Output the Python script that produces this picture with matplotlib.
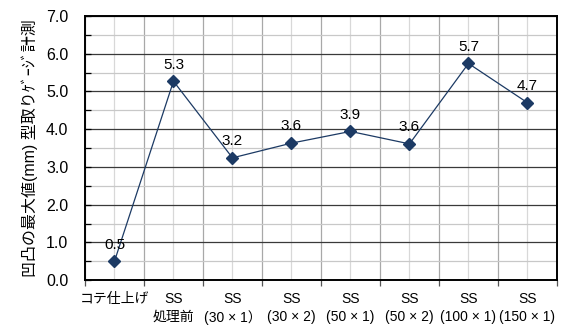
import numpy as np
import matplotlib.pyplot as plt
from matplotlib.ticker import MultipleLocator, FixedLocator

plt.rcParams['font.family'] = ['Liberation Sans', 'Noto Sans CJK JP', 'DejaVu Sans']

# data
categories = ['コテ仕上げ', 'SS\n処理前', 'SS\n(30 × 1）', 'SS\n(30 × 2)', 'SS\n(50 × 1)',
              'SS\n(50 × 2)', 'SS\n(100 × 1)', 'SS\n(150 × 1)']
values = [0.50, 5.27, 3.24, 3.63, 3.94, 3.61, 5.74, 4.70]
ylabel = '凹凸の最大値(mm) 型取りｹﾞｰｼﾞ計測'

col = '#1c3a64'

fig = plt.figure(figsize=(5.68, 3.25), dpi=100)
ax = fig.add_axes([0.1496, 0.138, 0.831, 0.813])

x = np.arange(len(categories))
ax.plot(x, values, color=col, lw=0.9, marker='D', ms=6.5, mec=col, mfc=col, zorder=5)
for xi, v in zip(x, values):
    ax.annotate(f'{v:.1f}', (xi, v), xytext=(0, 7), textcoords='offset points',
                ha='center', va='bottom', fontsize=11, zorder=6)

ax.set_xlim(-0.5, len(categories) - 0.5)
ax.set_ylim(0, 7)

# y grid: major dark, minor light
ax.yaxis.set_major_locator(MultipleLocator(1.0))
ax.yaxis.set_minor_locator(MultipleLocator(0.5))
ax.set_yticks(np.arange(0, 7.01, 1.0))
ax.set_yticklabels([f'{t:.1f}' for t in np.arange(0, 7.01, 1.0)], fontsize=11.5)
ax.grid(which='major', axis='y', color='#3a3a3a', lw=0.9)
ax.grid(which='minor', axis='y', color='#c8c8c8', lw=0.9)

# x: boundaries as major ticks, category centers as minor grid
bounds = np.arange(-0.5, len(categories), 1.0)
ax.xaxis.set_major_locator(FixedLocator(bounds))
ax.xaxis.set_minor_locator(FixedLocator(x))
ax.set_xticklabels([])
ax.grid(which='major', axis='x', color='#a8a8a8', lw=0.9)
ax.grid(which='minor', axis='x', color='#d8d8d8', lw=0.9)
ax.tick_params(axis='x', which='major', direction='out', length=4, width=0.9, color='#555555')
ax.tick_params(axis='x', which='minor', length=0)
for xi, lab in zip(x, categories):
    ax.text(xi, -0.32, lab, transform=ax.transData, ha='center', va='top',
            fontsize=10, linespacing=1.3)

ax.tick_params(axis='y', which='major', direction='in', length=4, width=0.9, pad=12)
ax.tick_params(axis='y', which='minor', direction='in', length=4, width=0.9)
ax.set_axisbelow(True)

for s in ax.spines.values():
    s.set_linewidth(1.4)
    s.set_color('black')

ax.set_ylabel(ylabel, fontsize=11.5, labelpad=6)

fig.savefig('out.png', dpi=100)
